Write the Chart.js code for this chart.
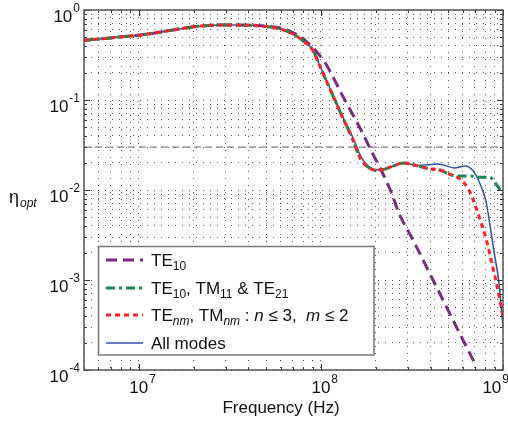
<!DOCTYPE html>
<html>
<head>
<meta charset="utf-8">
<script src="https://cdn.jsdelivr.net/npm/chart.js@4.4.0/dist/chart.umd.min.js"></script>
<style>
    html, body { margin: 0; padding: 0; background: #fff; }
    #wrap { width: 508px; height: 429px; }
</style>
</head>
<body>
<div id="wrap"><canvas id="chartEta" width="508" height="429"></canvas></div>
<script>
// values (Hz, eta_opt)
const freqTE10 = [5e6, 6.5e6, 8e6, 1e7, 1.3e7, 1.7e7, 2.2e7, 3e7, 4e7, 5e7, 6e7, 7.1e7, 7.8e7, 8.5e7, 9.6e7, 1.04e8, 1.135e8, 1.29e8, 1.46e8, 1.66e8, 1.88e8, 2.14e8, 2.43e8, 2.68e8, 3.2e8, 4.18e8, 5e8, 5.9e8, 7.1e8];
const etaTE10 = [0.462, 0.482, 0.504, 0.525, 0.567, 0.62, 0.664, 0.681, 0.678, 0.66, 0.63, 0.555, 0.5, 0.43, 0.333, 0.271, 0.2, 0.12, 0.0756, 0.0464, 0.0278, 0.0167, 0.0095, 0.00555, 0.0028, 0.00095, 0.00046, 0.000235, 0.000112];

const freqThree = [5e6, 6.5e6, 8e6, 1e7, 1.3e7, 1.7e7, 2.2e7, 3e7, 4e7, 5e7, 6e7, 7e7, 8e7, 9e7, 1e8, 1.1e8, 1.2e8, 1.3e8, 1.4e8, 1.5e8, 1.65e8, 1.8e8, 2e8, 2.2e8, 2.5e8, 2.85e8, 3.4e8, 4e8, 4.5e8, 5.2e8, 5.9e8, 6.6e8, 7.4e8, 8.4e8, 9.4e8, 1e9];
const etaThree = [0.462, 0.482, 0.504, 0.525, 0.567, 0.62, 0.664, 0.681, 0.678, 0.655, 0.615, 0.541, 0.452, 0.36, 0.224, 0.145, 0.0975, 0.0674, 0.049, 0.036, 0.0223, 0.0182, 0.0166, 0.0169, 0.0185, 0.02, 0.0185, 0.0171, 0.0167, 0.0147, 0.0143, 0.0143, 0.0139, 0.0139, 0.0108, 0.0088];

const freqNm = [5e6, 6.5e6, 8e6, 1e7, 1.3e7, 1.7e7, 2.2e7, 3e7, 4e7, 5e7, 6e7, 7e7, 8e7, 9e7, 1e8, 1.1e8, 1.2e8, 1.3e8, 1.4e8, 1.5e8, 1.65e8, 1.8e8, 2e8, 2.2e8, 2.5e8, 2.85e8, 3.4e8, 4e8, 4.5e8, 5.2e8, 5.9e8, 6.5e8, 6.9e8, 7.4e8, 8.1e8, 8.6e8, 9.2e8, 9.6e8, 1e9];
const etaNm = [0.462, 0.482, 0.504, 0.525, 0.567, 0.62, 0.664, 0.681, 0.678, 0.655, 0.615, 0.541, 0.452, 0.36, 0.224, 0.145, 0.0975, 0.0674, 0.049, 0.036, 0.0223, 0.0182, 0.0166, 0.0169, 0.0185, 0.02, 0.0185, 0.0171, 0.0167, 0.0147, 0.0129, 0.01, 0.0075, 0.005, 0.0028, 0.00167, 0.00093, 0.0006, 0.00039];

const freqAll = [5e6, 6.5e6, 8e6, 1e7, 1.3e7, 1.7e7, 2.2e7, 3e7, 4e7, 5e7, 6e7, 7e7, 8e7, 9e7, 1e8, 1.1e8, 1.2e8, 1.3e8, 1.4e8, 1.5e8, 1.65e8, 1.8e8, 2e8, 2.2e8, 2.5e8, 2.85e8, 3.4e8, 4.4e8, 5.4e8, 6.2e8, 6.9e8, 7.6e8, 8.1e8, 8.4e8, 8.9e8, 9.5e8, 1e9];
const etaAll = [0.462, 0.482, 0.504, 0.525, 0.567, 0.62, 0.664, 0.681, 0.678, 0.655, 0.615, 0.541, 0.452, 0.36, 0.226, 0.147, 0.099, 0.069, 0.051, 0.038, 0.024, 0.0188, 0.0168, 0.0169, 0.0185, 0.02, 0.0187, 0.0195, 0.0176, 0.0185, 0.016, 0.0108, 0.0072, 0.0046, 0.00215, 0.00093, 0.0003];

const freqLimit = [5e6, 1e9];
const etaLimit = [0.03, 0.03];

const xMajor = [1e7, 1e8, 1e9];
const xExps = ["7", "8", "9"];
const yMajor = [1e-4, 1e-3, 1e-2, 1e-1, 1];
const yExps = ["-4", "-3", "-2", "-1", "0"];

const FONT = "'Liberation Sans', Arial, Helvetica, sans-serif";

function gridValues(min, max) {
    const vals = [];
    for (let e = Math.floor(Math.log10(min)); e <= Math.ceil(Math.log10(max)); e++) {
        for (let k = 1; k < 10; k++) {
            const v = k * Math.pow(10, e);
            if (v >= min * 0.999 && v <= max * 1.001) vals.push(v);
        }
    }
    return vals;
}

const xGrid = gridValues(5e6, 1e9);
const yGrid = gridValues(1e-4, 1);

function toXY(xs, ys) {
    return xs.map((x, i) => ({ x, y: ys[i] }));
}

const series = [
    { key: "te10", label: [["TE"], ["10", "sub"]], freq: freqTE10, eta: etaTE10, color: "#7d2a86", width: 3, dash: [11, 6], order: 2 },
    { key: "three", label: [["TE"], ["10", "sub"], [", TM"], ["11", "sub"], [" & TE"], ["21", "sub"]], freq: freqThree, eta: etaThree, color: "#17894a", width: 3, dash: [9, 4, 3, 4], order: 1 },
    { key: "nm", label: [["TE"], ["nm", "subi"], [", TM"], ["nm", "subi"], [" : "], ["n", "i"], [" \u2264 3,  "], ["m", "i"], [" \u2264 2"]], freq: freqNm, eta: etaNm, color: "#ff2222", width: 3, dash: [5, 4], order: 0 },
    { key: "all", label: [["All modes"]], freq: freqAll, eta: etaAll, color: "#2f52b3", width: 1.5, dash: [], order: 3 }
];

function drawRich(ctx, x, y, parts, size) {
    let cx = x;
    parts.forEach(([text, style = ""]) => {
        const small = style.startsWith("sub");
        const italic = style.endsWith("i");
        const fs = small ? Math.round(size * 0.72) : size;
        ctx.font = `${italic ? "italic " : ""}${fs}px ${FONT}`;
        ctx.fillText(text, cx, small ? y + 4 : y);
        cx += ctx.measureText(text).width;
    });
    return cx - x;
}

function powWidth(ctx, exp) {
    ctx.font = `17px ${FONT}`;
    const w1 = ctx.measureText("10").width;
    ctx.font = `12px ${FONT}`;
    return [w1, ctx.measureText(exp).width];
}

function drawPow(ctx, x, y, exp) {
    ctx.font = `17px ${FONT}`;
    ctx.fillText("10", x, y);
    const w = ctx.measureText("10").width;
    ctx.font = `12px ${FONT}`;
    ctx.fillText(exp, x + w + 1, y - 10);
}

const decorPlugin = {
    id: "decor",
    afterDraw(chart) {
        const ctx = chart.ctx;
        const a = chart.chartArea;
        const xs = chart.scales.x;
        const ys = chart.scales.y;
        ctx.save();

        // ticks inside the box
        ctx.strokeStyle = "#333";
        ctx.lineWidth = 1;
        ctx.setLineDash([]);
        xGrid.forEach(v => {
            const px = Math.round(xs.getPixelForValue(v)) + 0.5;
            const len = xMajor.includes(v) ? 6 : 3;
            ctx.beginPath();
            ctx.moveTo(px, a.bottom); ctx.lineTo(px, a.bottom - len);
            ctx.moveTo(px, a.top); ctx.lineTo(px, a.top + len);
            ctx.stroke();
        });
        yGrid.forEach(v => {
            const py = Math.round(ys.getPixelForValue(v)) + 0.5;
            const len = yMajor.some(m => Math.abs(m - v) < m * 1e-6) ? 6 : 3;
            ctx.beginPath();
            ctx.moveTo(a.left, py); ctx.lineTo(a.left + len, py);
            ctx.moveTo(a.right, py); ctx.lineTo(a.right - len, py);
            ctx.stroke();
        });

        // axes box
        ctx.strokeStyle = "#555";
        ctx.lineWidth = 1.5;
        ctx.strokeRect(a.left, a.top, a.right - a.left, a.bottom - a.top);

        // tick labels
        ctx.fillStyle = "#111";
        ctx.textAlign = "left";
        ctx.textBaseline = "alphabetic";
        xMajor.forEach((v, i) => {
            const px = xs.getPixelForValue(v);
            const [w1, w2] = powWidth(ctx, xExps[i]);
            let x0 = px - w1 / 2;
            const end = x0 + w1 + 1 + w2;
            if (end > chart.width + 1) x0 -= end - chart.width - 1;
            drawPow(ctx, x0, a.bottom + 23, xExps[i]);
        });
        yMajor.forEach((v, i) => {
            const py = ys.getPixelForValue(v);
            const [w1, w2] = powWidth(ctx, yExps[i]);
            drawPow(ctx, a.left - 4 - (w1 + 1 + w2), py + 12, yExps[i]);
        });

        // axis labels
        ctx.font = `17px ${FONT}`;
        ctx.textAlign = "center";
        ctx.fillText("Frequency (Hz)", 281, 413);
        ctx.textAlign = "left";
        ctx.font = `18px ${FONT}`;
        ctx.fillText("\u03b7", 9, 203);
        ctx.font = `italic 12px ${FONT}`;
        ctx.fillText("opt", 20, 207);

        // legend
        const box = { left: 98.5, top: 246.5, width: 275.5, height: 108.5 };
        ctx.fillStyle = "#fff";
        ctx.fillRect(box.left, box.top, box.width, box.height);
        ctx.strokeStyle = "#777";
        ctx.lineWidth = 1.5;
        ctx.strokeRect(box.left, box.top, box.width, box.height);
        const rows = [260, 288, 315, 343];
        series.forEach((s, i) => {
            const y = rows[i];
            ctx.strokeStyle = s.color;
            ctx.lineWidth = s.width;
            ctx.setLineDash(s.dash);
            ctx.beginPath();
            ctx.moveTo(106, y); ctx.lineTo(143, y);
            ctx.stroke();
            ctx.setLineDash([]);
            ctx.fillStyle = "#111";
            drawRich(ctx, 151, y + 6, s.label, 17);
        });

        ctx.restore();
    }
};

const datasets = series.map(s => ({
    label: s.key,
    data: toXY(s.freq, s.eta),
    borderColor: s.color,
    borderWidth: s.width,
    borderDash: s.dash,
    order: s.order
}));
datasets.push({
    label: "limit",
    data: toXY(freqLimit, etaLimit),
    borderColor: "#666",
    borderWidth: 1,
    borderDash: [7, 4],
    order: 4
});

function axis(min, max, values, horizontal) {
    return {
        type: "logarithmic",
        min,
        max,
        ticks: { display: false },
        grid: { drawTicks: false, color: "#555", lineWidth: 1 },
        border: { display: false, dash: [1, 6] },
        afterBuildTicks: sc => { sc.ticks = values.map(v => ({ value: v })); },
        afterFit: sc => { if (horizontal) sc.height = 0; else sc.width = 0; }
    };
}

new Chart(document.getElementById("chartEta"), {
    type: "line",
    data: { datasets },
    options: {
        responsive: false,
        animation: false,
        devicePixelRatio: 1,
        layout: { padding: { left: 84, top: 10, right: 5, bottom: 59 } },
        elements: {
            point: { radius: 0 },
            line: { cubicInterpolationMode: "monotone", fill: false }
        },
        plugins: { legend: { display: false }, tooltip: { enabled: false } },
        scales: {
            x: axis(5e6, 1e9, xGrid, true),
            y: axis(1e-4, 1, yGrid, false)
        }
    },
    plugins: [decorPlugin]
});
</script>
</body>
</html>
